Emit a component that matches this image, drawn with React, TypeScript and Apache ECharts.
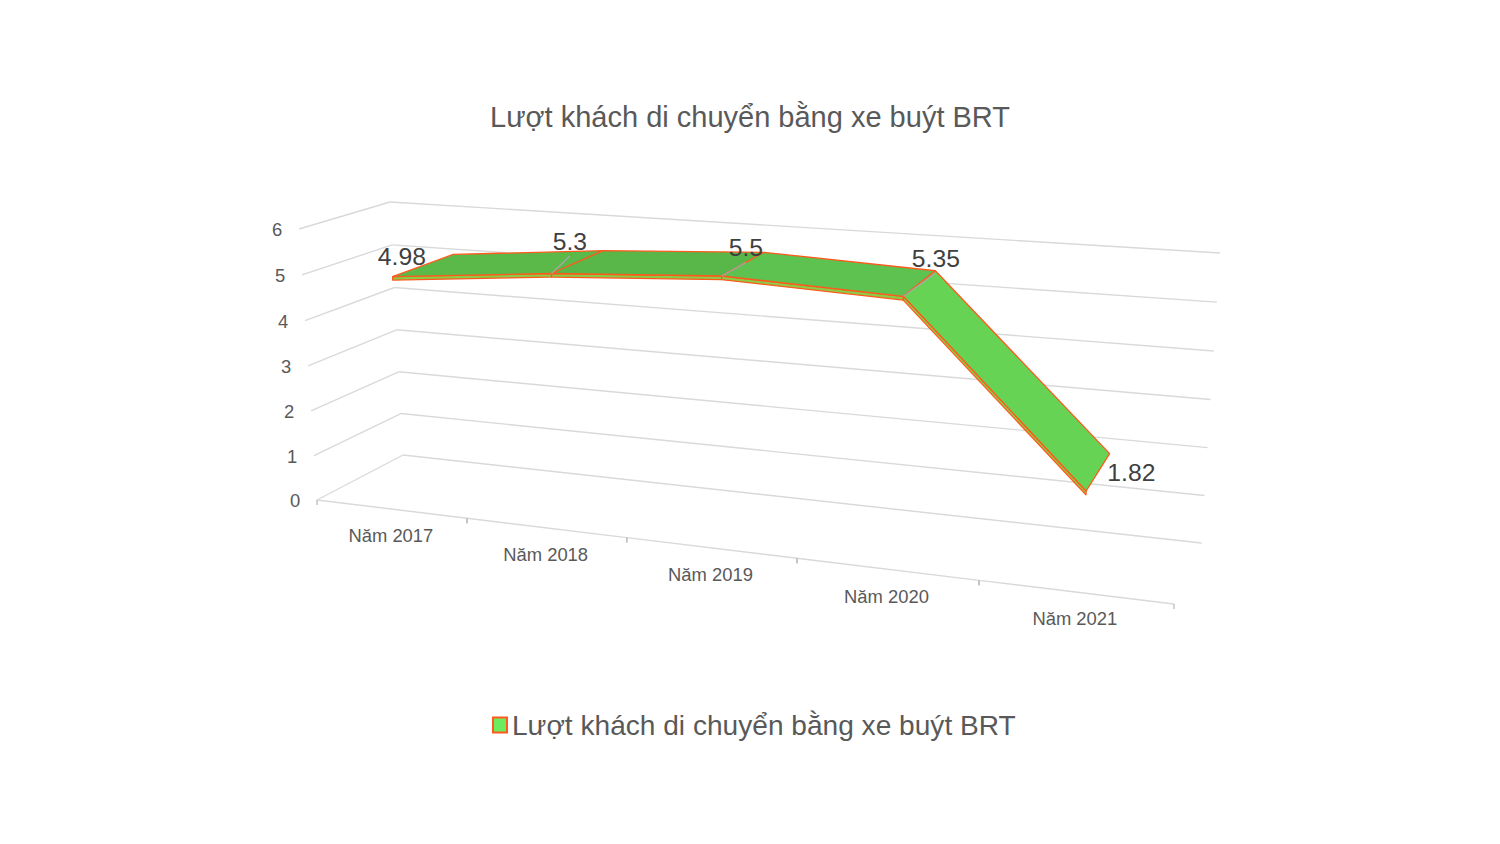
import React, { useEffect, useRef } from "react";
import * as echarts from "echarts";

const chartTitle = "Lượt khách di chuyển bằng xe buýt BRT";
const seriesName = "Lượt khách di chuyển bằng xe buýt BRT";
const categories = ["Năm 2017", "Năm 2018", "Năm 2019", "Năm 2020", "Năm 2021"];
const values = [4.98, 5.3, 5.5, 5.35, 1.82];
const valueLabels = ["4.98", "5.3", "5.5", "5.35", "1.82"];
const yTicks = [0, 1, 2, 3, 4, 5, 6];

const FONT = '"Liberation Sans", Arial, sans-serif';
const ORANGE = "#FF5A1E";
const GRID = "#D9D9D9";
const segColors = ["#5BB94A", "#58B748", "#5DC24F", "#66D354"];
const labelOffsets = [[-21, -9], [-7.5, -21], [3, -16.5], [16.5, -25.5], [33.5, 0.5]];
const leaderFrom = [false, true, true, true, false];

// Corners of the 3D box on screen: [depth][side][bottom/top]
const BOX = {
  f: { l0: [317, 500], l6: [299, 229], r0: [1174, 604], r6: [1199.5, 289] },
  b: { l0: [403, 455], l6: [390, 202], r0: [1201.5, 543], r6: [1220, 253] },
};
const K_U = -0.151;
const K_V = -0.02;
const D_FRONT = 0.16;
const D_BACK = 0.88;
const THICK = 0.075;

const mix = (a: number[], b: number[], t: number) => [a[0] + (b[0] - a[0]) * t, a[1] + (b[1] - a[1]) * t];

function project(u: number, v: number, d: number) {
  const uw = (u * (1 + K_U)) / (1 + K_U * u);
  const vw = (v * (1 + K_V)) / (1 + K_V * v);
  const front = mix(mix(BOX.f.l0, BOX.f.r0, uw), mix(BOX.f.l6, BOX.f.r6, uw), vw);
  const back = mix(mix(BOX.b.l0, BOX.b.r0, uw), mix(BOX.b.l6, BOX.b.r6, uw), vw);
  return mix(front, back, d);
}

// Goes through the hidden cartesian axes, then into the 3D box
function toBox(params: any, api: any, x: number, y: number) {
  const c = api.coord([x, y]);
  const s = params.coordSys;
  return { u: (c[0] - s.x) / s.width, v: 1 - (c[1] - s.y) / s.height };
}

const line = (a: number[], b: number[], stroke: string, lineWidth = 1.4) => ({
  type: "line",
  shape: { x1: a[0], y1: a[1], x2: b[0], y2: b[1] },
  style: { stroke, lineWidth },
});

const label = (text: string, x: number, y: number, fontSize: number, fill: string) => ({
  type: "text",
  x,
  y,
  style: { text, fontSize, fontFamily: FONT, fill, align: "center", verticalAlign: "middle" },
});

function renderGrid(params: any, api: any) {
  const val = api.value(1);
  const { v } = toBox(params, api, 0, val);
  const a = project(0, v, 0);
  const b = project(0, v, 1);
  const c = project(1, v, 1);
  return {
    type: "group",
    children: [
      line(a, b, GRID),
      line(b, c, GRID),
      label(String(val), a[0] - 22, a[1] + 0.5, 18.4, "#595959"),
    ],
  };
}

function renderXAxis(params: any, api: any) {
  const i = api.value(0);
  const start = toBox(params, api, i - 0.5, 0);
  const end = toBox(params, api, i + 0.5, 0);
  const a = project(start.u, 0, 0);
  const b = project(end.u, 0, 0);
  const m = project((start.u + end.u) / 2, 0, 0);
  const children: any[] = [
    line(a, b, GRID),
    line(a, [a[0], a[1] + 5], "#BFBFBF"),
    line(b, [b[0], b[1] + 5], "#BFBFBF"),
    label(categories[params.dataIndex], m[0], m[1] + 27, 18.4, "#595959"),
  ];
  return { type: "group", children };
}

function renderRibbon(params: any, api: any) {
  const i = params.dataIndex;
  if (i >= values.length - 1) return { type: "group", children: [] };
  const p0 = toBox(params, api, api.value(0), api.value(1));
  const p1 = toBox(params, api, i + 1, values[i + 1]);
  const t = THICK / 6;
  const f0 = project(p0.u, p0.v, D_FRONT);
  const f1 = project(p1.u, p1.v, D_FRONT);
  const b0 = project(p0.u, p0.v, D_BACK);
  const b1 = project(p1.u, p1.v, D_BACK);
  const f0d = project(p0.u, p0.v - t, D_FRONT);
  const f1d = project(p1.u, p1.v - t, D_FRONT);
  const stroke = { stroke: ORANGE, lineWidth: 1.3, lineJoin: "round" };
  return {
    type: "group",
    children: [
      { type: "polygon", shape: { points: [f0, f1, f1d, f0d] }, style: { fill: "#8CCB45", ...stroke } },
      { type: "polygon", shape: { points: [f0, f1, b1, b0] }, style: { fill: segColors[i], ...stroke } },
    ],
  };
}

function renderLabels(params: any, api: any) {
  const i = params.dataIndex;
  const p = toBox(params, api, api.value(0), api.value(1));
  const f = project(p.u, p.v, D_FRONT);
  const b = project(p.u, p.v, D_BACK);
  const cx = (f[0] + b[0]) / 2 + labelOffsets[i][0];
  const cy = (f[1] + b[1]) / 2 + labelOffsets[i][1];
  const children: any[] = [];
  if (leaderFrom[i]) children.push(line(f, [cx, cy + 15], "#A6A6A6", 1.3));
  children.push(label(valueLabels[i], cx, cy, 24.7, "#404040"));
  return { type: "group", children };
}

export default function App() {
  const ref = useRef<HTMLDivElement>(null);
  useEffect(() => {
    const chart = echarts.init(ref.current!, undefined, { renderer: "svg" });
    const points = values.map((v, i) => [i, v]);
    chart.setOption({
      animation: false,
      backgroundColor: "#ffffff",
      title: {
        text: chartTitle,
        left: "center",
        top: 97.5,
        textStyle: { fontFamily: FONT, fontSize: 29, fontWeight: "normal", color: "#595959" },
      },
      legend: {
        data: [
          {
            name: seriesName,
            icon: "rect",
            itemStyle: { color: "#6DEB5F", borderColor: ORANGE, borderWidth: 2 },
          },
        ],
        left: 492,
        top: 711,
        padding: 0,
        itemWidth: 14,
        itemHeight: 15,
        itemGap: 7,
        selectedMode: false,
        textStyle: { fontFamily: FONT, fontSize: 28.1, color: "#595959" },
      },
      grid: { left: 100, right: 100, top: 100, bottom: 100 },
      xAxis: { type: "value", min: -0.5, max: 4.5, show: false },
      yAxis: { type: "value", min: 0, max: 6, interval: 1, show: false },
      series: [
        {
          type: "custom",
          name: "grid",
          silent: true,
          renderItem: renderGrid,
          encode: { x: 0, y: 1 },
          data: yTicks.map((v) => [0, v]),
        },
        {
          type: "custom",
          name: "xaxis",
          silent: true,
          renderItem: renderXAxis,
          encode: { x: 0, y: 1 },
          data: categories.map((_, i) => [i, 0]),
        },
        {
          type: "custom",
          name: seriesName,
          silent: true,
          renderItem: renderRibbon,
          encode: { x: 0, y: 1 },
          data: points,
        },
        {
          type: "custom",
          name: "labels",
          silent: true,
          renderItem: renderLabels,
          encode: { x: 0, y: 1 },
          data: points,
        },
      ],
    });
    return () => chart.dispose();
  }, []);
  return (
    <div
      ref={ref}
      style={{ position: "fixed", left: 0, top: 0, width: 1500, height: 844, background: "#fff" }}
    />
  );
}
